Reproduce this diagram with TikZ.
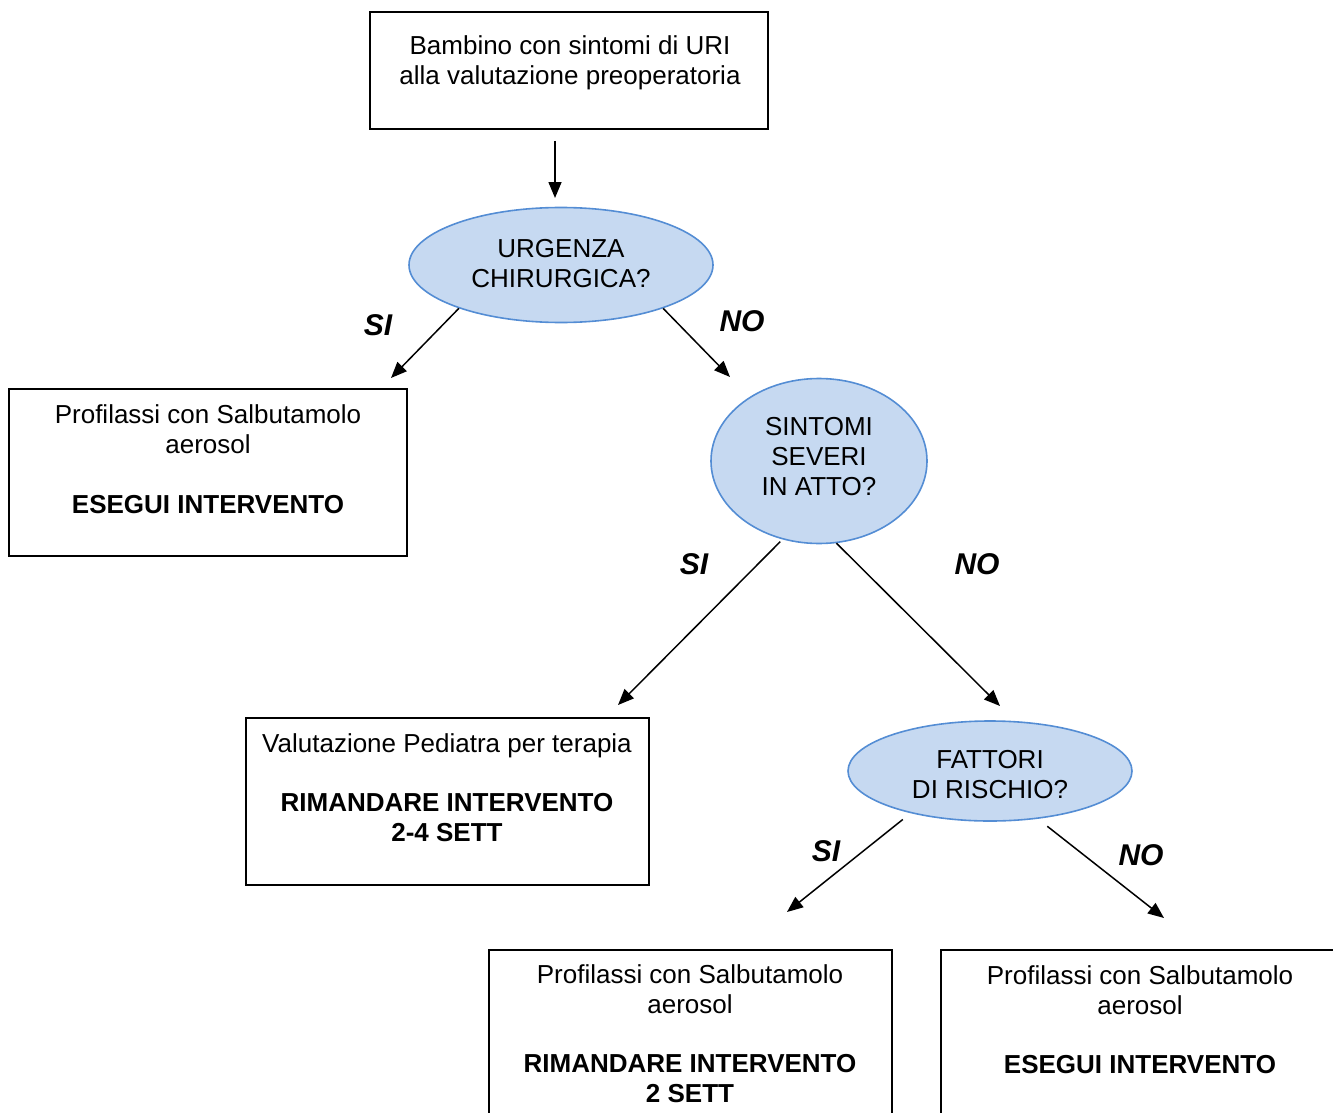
\documentclass[tikz,border=0pt]{standalone}
\usepackage{fontspec}
\setmainfont{Liberation Sans}
\usetikzlibrary{arrows.meta,shapes.geometric}
\definecolor{ellfill}{RGB}{198,217,241}
\definecolor{elldraw}{RGB}{84,141,212}
\begin{document}
\begin{tikzpicture}[x=1pt, y=-1pt, >={Triangle[length=16pt,width=13pt]},
    box/.style={draw, line width=1.6pt, inner sep=0pt},
    txt/.style={align=center, inner sep=0pt, font=\fontsize{26}{30}\selectfont},
    dec/.style={ellipse, draw=elldraw, fill=ellfill, line width=1.6pt, inner sep=0pt,
        align=center, font=\fontsize{26}{30}\selectfont},
    lab/.style={inner sep=0pt, font=\fontsize{30}{30}\selectfont\bfseries\itshape},
    conn/.style={->, line width=1.5pt}]
\useasboundingbox (0,0) rectangle (1333,1113);

\node[box, minimum width=398pt, minimum height=117pt] (start) at (569,70.5) {};
\node[txt] (startt) at (570,62.6) {Bambino con sintomi di URI\\alla valutazione preoperatoria};

\node[dec, minimum width=304pt, minimum height=115pt] (urg) at (561,265) {URGENZA\\CHIRURGICA?\rule[-4pt]{0pt}{4pt}};
\node[dec, minimum width=216pt, minimum height=165pt] (sev) at (819,461) {SINTOMI\\SEVERI\\IN ATTO?\rule[-10pt]{0pt}{10pt}};
\node[dec, minimum width=284pt, minimum height=100pt] (fat) at (990,771) {\rule{0pt}{25pt}FATTORI\\DI RISCHIO?};

\node[box, minimum width=398pt, minimum height=167pt] (pro1) at (208,472.5) {};
\node[txt] (pro1t) at (208,459) {Profilassi con Salbutamolo\\aerosol\\[30pt]\textbf{ESEGUI INTERVENTO}};

\node[box, minimum width=403pt, minimum height=167pt] (ped) at (447.5,801.5) {};
\node[txt] (pedt) at (447,788) {Valutazione Pediatra per terapia\\[29pt]\textbf{RIMANDARE INTERVENTO}\\\textbf{2-4 SETT}};

\node[box, minimum width=403pt, minimum height=190pt] (pro2) at (690.5,1045) {};
\node[txt] (pro2t) at (690,1034) {Profilassi con Salbutamolo\\aerosol\\[29pt]\textbf{RIMANDARE INTERVENTO}\\\textbf{2 SETT}};

\node[box, minimum width=419pt, minimum height=190pt] (pro3) at (1150.5,1045) {};
\node[txt] (pro3t) at (1140,1019.4) {Profilassi con Salbutamolo\\aerosol\\[29pt]\textbf{ESEGUI INTERVENTO}};

\node[lab] (si1) at (378,325) {SI};
\node[lab] (no1) at (742,321) {NO};
\node[lab] (si2) at (694,564) {SI};
\node[lab] (no2) at (977,564) {NO};
\node[lab] (si3) at (826,851) {SI};
\node[lab] (no3) at (1141,855) {NO};

\coordinate (u0) at (555,198);
\coordinate (s1) at (391,378);
\coordinate (n1) at (730,377);
\coordinate (s2) at (618,705);
\coordinate (n2) at (1000,706);
\coordinate (s3) at (787,912);
\coordinate (n3) at (1164,918);

\draw[conn, shorten <=11pt] (start.south -| u0) -- (u0);
\draw[conn] (urg.203) -- (s1);
\draw[conn] (urg.337) -- (n1);
\draw[conn, shorten <=3pt] (sev.245) -- (s2);
\draw[conn] (sev.282) -- (n2);
\draw[conn, shorten <=10pt] (fat.208) -- (s3);
\draw[conn, shorten <=12pt] (fat.315) -- (n3);

\end{tikzpicture}
\end{document}
